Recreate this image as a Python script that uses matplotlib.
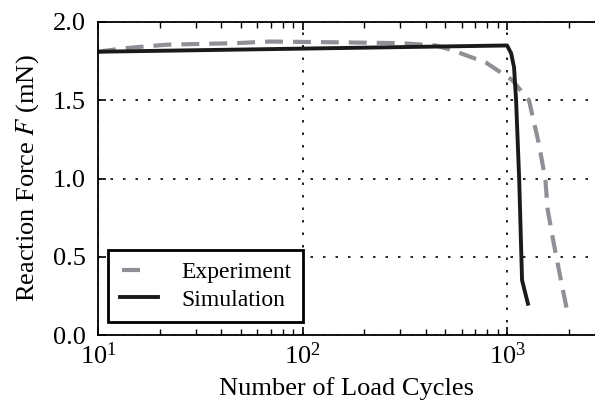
import matplotlib
matplotlib.use('Agg')
import matplotlib.pyplot as plt
from matplotlib.lines import Line2D
from matplotlib.legend_handler import HandlerLine2D

plt.rcParams['font.family'] = ['Liberation Serif', 'DejaVu Serif']
plt.rcParams['mathtext.fontset'] = 'stix'

# experiment (gray dashed)
exp_n = [10, 13, 15.7, 21.7, 32, 47.5, 69, 150, 300, 447, 540, 790, 1057, 1280, 1432, 1540, 1580, 1695, 1834, 1985]
exp_f = [1.81, 1.83, 1.84, 1.855, 1.86, 1.865, 1.875, 1.87, 1.865, 1.85, 1.82, 1.74, 1.63, 1.50, 1.22, 0.99, 0.80, 0.58, 0.35, 0.13]

# simulation (black solid)
sim_n = [10, 100, 1000, 1047, 1082, 1107, 1146, 1184, 1265]
sim_f = [1.81, 1.83, 1.85, 1.80, 1.71, 1.50, 1.00, 0.35, 0.20]


# legend entry with a single short dash
class ShortDash(HandlerLine2D):
    def create_artists(self, legend, orig_handle, xdescent, ydescent, width, height, fontsize, trans):
        return super().create_artists(legend, orig_handle, xdescent - 0.06 * width, ydescent,
                                      width * 0.48, height, fontsize, trans)


fig = plt.figure(figsize=(5.95, 4.09), dpi=100)
ax = fig.add_axes([98/595, 1 - 335/409, 1 - 98/595, 313/409])

gray = '#8e9095'
ax.plot(exp_n, exp_f, color=gray, lw=3, dashes=(4.3, 2.4))
ax.plot(sim_n, sim_f, '-', color='#1a1a1a', lw=2.8)

ax.set_xscale('log')
ax.set_xlim(10, 10**3.43)
ax.set_ylim(0, 2.0)
ax.set_yticks([0.0, 0.5, 1.0, 1.5, 2.0])
ax.set_yticklabels(['0.0', '0.5', '1.0', '1.5', '2.0'])
ax.grid(True, which='major', color='black', linestyle=(0, (1.5, 6)), lw=1.2)
ax.tick_params(which='both', direction='in', top=True, right=False, labelsize=19)
ax.tick_params(which='major', length=6, width=1.2)
ax.tick_params(which='minor', length=4, width=1)
ax.tick_params(axis='x', pad=5)
ax.tick_params(axis='y', pad=9)
ax.spines['right'].set_visible(False)
for s in ['left', 'top', 'bottom']:
    ax.spines[s].set_linewidth(1.3)

ax.set_xlabel('Number of Load Cycles', fontsize=19, labelpad=6)
ax.set_ylabel('Reaction Force $F$ (mN)', fontsize=19, labelpad=8)

# legend handles
h_exp = Line2D([], [], color=gray, lw=3, solid_capstyle='butt')
h_sim = Line2D([], [], color='#1a1a1a', lw=2.8)
leg = ax.legend([h_exp, h_sim], ['Experiment', 'Simulation'], loc='lower left',
                fontsize=17, fancybox=False, framealpha=1, edgecolor='black',
                borderpad=0.5, labelspacing=0.25, handlelength=1.6, handletextpad=1.0,
                borderaxespad=0, bbox_to_anchor=(0.02, 0.04),
                handler_map={h_exp: ShortDash()})
leg.get_frame().set_linewidth(2)

fig.savefig('out.png', dpi=100)
